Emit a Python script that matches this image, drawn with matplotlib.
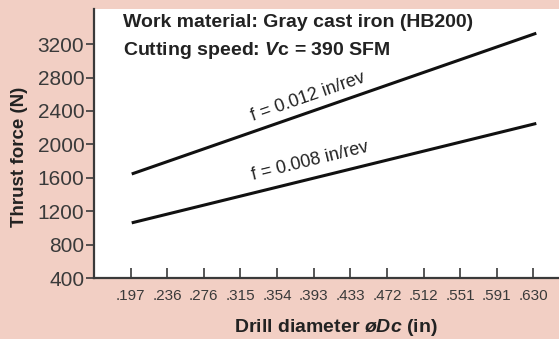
import numpy as np
import matplotlib.pyplot as plt

plt.rcParams['font.family'] = ['Liberation Sans', 'DejaVu Sans']
plt.rcParams['mathtext.fontset'] = 'custom'
plt.rcParams['mathtext.rm'] = 'Liberation Sans'
plt.rcParams['mathtext.bf'] = 'Liberation Sans:bold'
plt.rcParams['mathtext.it'] = 'Liberation Sans:italic'
plt.rcParams['mathtext.bfit'] = 'Liberation Sans:bold:italic'

# drill diameters (in), evenly spaced as categories
diameters = ['.197', '.236', '.276', '.315', '.354', '.393',
             '.433', '.472', '.512', '.551', '.591', '.630']
# thrust force at smallest and largest diameter
ends_idx = [0.03, 11.08]
force_012 = [1645, 3330]
force_008 = [1060, 2250]
yticks = [400, 800, 1200, 1600, 2000, 2400, 2800, 3200]

bg = '#f2cfc4'
spine_col = '#3a3a3a'

fig = plt.figure(figsize=(5.59, 3.39), dpi=100, facecolor=bg)
ax = fig.add_axes([94 / 559, 61 / 339, 465 / 559, 269 / 339])
ax.set_facecolor('white')

ax.plot(ends_idx, force_012, color='#111111', lw=2.2, solid_capstyle='butt')
ax.plot(ends_idx, force_008, color='#111111', lw=2.2, solid_capstyle='butt')

ax.set_xlim(-1, 11.7)
ax.set_ylim(400, 3620)
ax.set_xticks(range(len(diameters)))
ax.set_xticklabels(diameters)
ax.set_yticks(yticks)

for s in ['top', 'right']:
    ax.spines[s].set_visible(False)
for s in ['left', 'bottom']:
    ax.spines[s].set_color(spine_col)
    ax.spines[s].set_linewidth(1.6)

ax.tick_params(axis='x', direction='in', length=7, width=1.2, color=spine_col,
               labelsize=11, labelcolor='#3a3a3a', pad=8)
ax.tick_params(axis='y', direction='out', length=6, width=1.2, color=spine_col,
               labelsize=15, labelcolor='#3a3a3a', pad=1)

ax.set_ylabel('Thrust force (N)', fontsize=13.5, fontweight='bold', color='#222222')
ax.yaxis.set_label_coords(-0.142, 0.45)
ax.set_xlabel(r'Drill diameter $\mathbfit{øDc}$ (in)', fontsize=14, fontweight='bold',
              color='#222222')
ax.xaxis.set_label_coords(0.52, -0.145)

ax.text(0.062, 0.98, 'Work material: Gray cast iron (HB200)', transform=ax.transAxes,
        fontsize=14, fontweight='bold', color='#222222', va='top')
ax.text(0.062, 0.885, r'Cutting speed: $\mathbfit{V}\mathbf{c}$ = 390 SFM', transform=ax.transAxes,
        fontsize=14, fontweight='bold', color='#222222', va='top')

# rotate the labels to follow the lines on screen
fig.canvas.draw()
for xs, ys, lab, lx, dy in [(ends_idx, force_012, 'f = 0.012 in/rev', 4.85, 190),
                            (ends_idx, force_008, 'f = 0.008 in/rev', 4.9, 215)]:
    p0 = ax.transData.transform((xs[0], ys[0]))
    p1 = ax.transData.transform((xs[1], ys[1]))
    ang = np.degrees(np.arctan2(p1[1] - p0[1], p1[0] - p0[0]))
    ly = ys[0] + (ys[1] - ys[0]) * (lx - xs[0]) / (xs[1] - xs[0]) + dy
    ax.text(lx, ly, lab, rotation=ang, rotation_mode='anchor', ha='center', va='center',
            fontsize=13, color='#222222')

fig.savefig('out.png', dpi=100, facecolor=bg)
